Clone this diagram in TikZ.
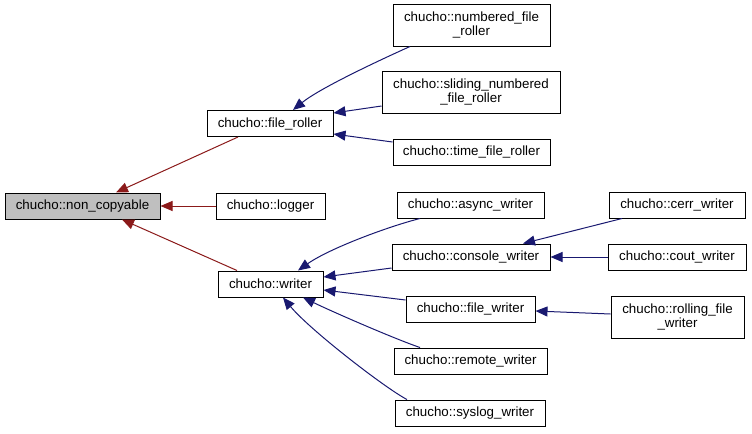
\documentclass[tikz,border=0pt]{standalone}
\usepackage{fontspec}
\setmainfont{Liberation Sans}
\usetikzlibrary{arrows.meta,calc}
\definecolor{blueedge}{HTML}{191970}
\definecolor{rededge}{HTML}{8B1A1A}
\definecolor{greyfill}{HTML}{BFBFBF}
\begin{document}
\begin{tikzpicture}[x=0.75pt,y=-0.75pt,
  box/.style={draw=black,line width=0.75pt,fill=white,inner sep=0pt,align=center,
    font=\fontsize{10}{10.7}\selectfont},
  one/.style={minimum height=19.5pt},
  two/.style={minimum height=31.5pt},
  pub/.style={draw=blueedge,line width=0.75pt,-{Triangle[length=9pt,width=7.5pt]}},
  priv/.style={draw=rededge,line width=0.75pt,-{Triangle[length=9pt,width=7.5pt]}}]
\useasboundingbox (0,0) rectangle (752,433);
% nodes
\node[box,one,fill=greyfill,minimum width=116.25pt] (nc) at (82.5,206) {chucho::non\_copyable};
\node[box,one,minimum width=94.5pt] (fr) at (270,123.5) {chucho::file\_roller};
\node[box,one,minimum width=81.75pt] (lg) at (270.5,206) {chucho::logger};
\node[box,one,minimum width=78.75pt] (wr) at (270.5,284) {chucho::writer};
\node[box,two,minimum width=117.75pt] (nfr) at (471.5,25) {chucho::numbered\_file\\\_roller};
\node[box,two,minimum width=133.5pt] (sfr) at (471,92) {chucho::sliding\_numbered\\\_file\_roller};
\node[box,one,minimum width=117.75pt] (tfr) at (471.5,152) {chucho::time\_file\_roller};
\node[box,one,minimum width=110.25pt] (aw) at (470.5,205) {chucho::async\_writer};
\node[box,one,minimum width=118.5pt] (cw) at (471,257) {chucho::console\_writer};
\node[box,one,minimum width=96.75pt] (fw) at (470.5,309) {chucho::file\_writer};
\node[box,one,minimum width=114.75pt] (rw) at (470.5,361) {chucho::remote\_writer};
\node[box,one,minimum width=112.5pt] (sw) at (470,413) {chucho::syslog\_writer};
\node[box,one,minimum width=102pt] (cerr) at (677,205) {chucho::cerr\_writer};
\node[box,one,minimum width=103.5pt] (cout) at (677,257) {chucho::cout\_writer};
\node[box,two,minimum width=99.75pt] (rfw) at (677.5,317) {chucho::rolling\_file\\\_writer};
% private inheritance (red)
\draw[priv] ($(fr.south)+(-32,0)$) -- ($(nc.north)+(33.5,0)$);
\draw[priv] (lg.west) -- (nc.east);
\draw[priv] ($(wr.north)+(-33.5,0)$) -- ($(nc.south)+(39.5,0)$);
% public inheritance (blue)
\draw[pub] ($(nfr.south)+(-61.5,0)$) .. controls (380,60) and (320,88) .. ($(fr.north)+(23,0)$);
\draw[pub] ($(sfr.west)+(0,14)$) -- ($(fr.east)+(0,-10.5)$);
\draw[pub] ($(tfr.west)+(0,-10)$) -- ($(fr.east)+(0,10.5)$);
\draw[pub] ($(aw.south)+(-50.5,0)$) .. controls (390,226) and (330,248) .. ($(wr.north)+(27.5,0)$);
\draw[pub] ($(cw.west)+(0,11)$) -- ($(wr.east)+(0,-7)$);
\draw[pub] ($(fw.west)+(0,-9)$) -- ($(wr.east)+(0,6)$);
\draw[pub] ($(rw.north)+(-50.5,0)$) .. controls (395,339) and (333,312) .. ($(wr.south)+(32.5,0)$);
\draw[pub] ($(sw.north)+(-63,0)$) .. controls (385,388) and (310,330) .. ($(wr.south)+(12.5,0)$);
\draw[pub] ($(cerr.south)+(-55,0)$) -- ($(cw.north)+(52,0)$);
\draw[pub] (cout.west) -- (cw.east);
\draw[pub] ($(rfw.west)+(0,-3)$) -- ($(fw.east)+(0,2)$);
\end{tikzpicture}
\end{document}
